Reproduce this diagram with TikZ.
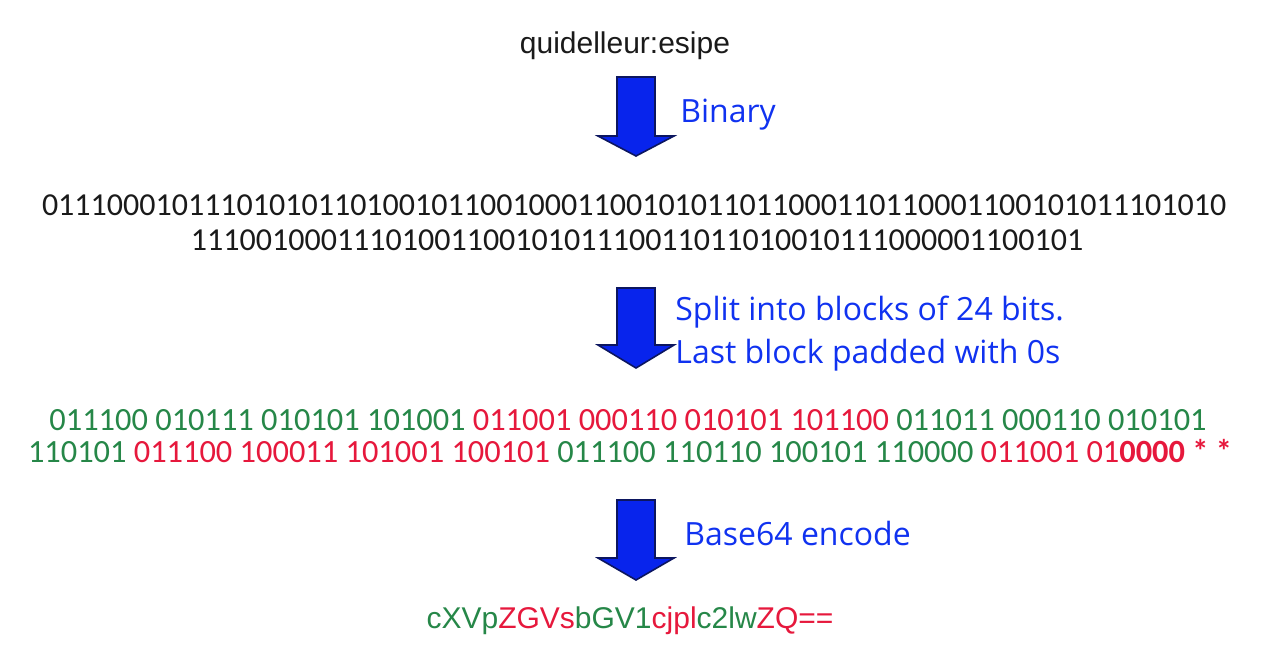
\documentclass[tikz,border=0pt]{standalone}
\usepackage{fontspec}
\setmainfont{Liberation Sans}
\newfontfamily\bitfont{Carlito}
\newfontfamily\notefont{Open Sans}
\usetikzlibrary{positioning}
\definecolor{bitgreen}{RGB}{38,135,72}
\definecolor{bitred}{RGB}{230,24,60}
\definecolor{noteblue}{RGB}{16,50,240}
\definecolor{arrowblue}{RGB}{8,36,236}
\definecolor{arrowedge}{RGB}{12,22,96}
\definecolor{ink}{RGB}{26,26,26}

\begin{document}
\begin{tikzpicture}[x=0.5pt,y=-0.5pt,
    note/.style={font=\notefont\fontsize{16}{19}\selectfont,text=noteblue,anchor=base west,inner sep=0pt},
    bits/.style={font=\bitfont\fontsize{16}{19}\selectfont,text=ink,anchor=base,inner sep=0pt},
    blocks/.style={bits,font=\bitfont\fontsize{16.2}{19}\selectfont},
    plaintext/.style={font=\fontsize{15}{18}\selectfont,text=ink,anchor=base,inner sep=0pt},
    arrowbody/.style={fill=arrowblue,draw=arrowedge,line width=0.8pt,line join=miter}]
  \useasboundingbox (0,0) rectangle (1276,645);

  % down arrows between the steps
  \foreach \ya/\yb/\yc [count=\i] in {77/136/156,288/345/368,500/558/580}
    \filldraw[arrowbody] (617,\ya) -- (655,\ya) -- (655,\yb) -- (674,\yb)
      -- (636,\yc) -- (598,\yb) -- (617,\yb) -- cycle;

  \node[plaintext] (login) at (625,53) {quidelleur:esipe};
  \node[note] (binary) at (680,122) {Binary};

  \node[bits] (bin1) at (634,215) {0111000101110101011010010110010001100101011011000110110001100101011101010};
  \node[bits] (bin2) at (637,250) {1110010001110100110010101110011011010010111000001100101};

  \node[note] (split) at (675,320) {Split into blocks of 24 bits.};
  \node[note] (pad) at (675,363) {Last block padded with 0s};

  \node[blocks] (blk1) at (628,430) {\textcolor{bitgreen}{011100 010111 010101 101001} \textcolor{bitred}{011001 000110 010101 101100} \textcolor{bitgreen}{011011 000110 010101}};
  \node[blocks] (blk2) at (630,462) {\textcolor{bitgreen}{110101} \textcolor{bitred}{011100 100011 101001 100101} \textcolor{bitgreen}{011100 110110 100101 110000} \textcolor{bitred}{011001 01\textbf{0000} \textbf{* *}}};

  \node[note] (encode) at (684,545) {Base64 encode};
  \node[plaintext] (result) at (630,628) {\textcolor{bitgreen}{cXVp}\textcolor{bitred}{ZGVs}\textcolor{bitgreen}{bGV1}\textcolor{bitred}{cjpl}\textcolor{bitgreen}{c2lw}\textcolor{bitred}{ZQ==}};
\end{tikzpicture}
\end{document}
